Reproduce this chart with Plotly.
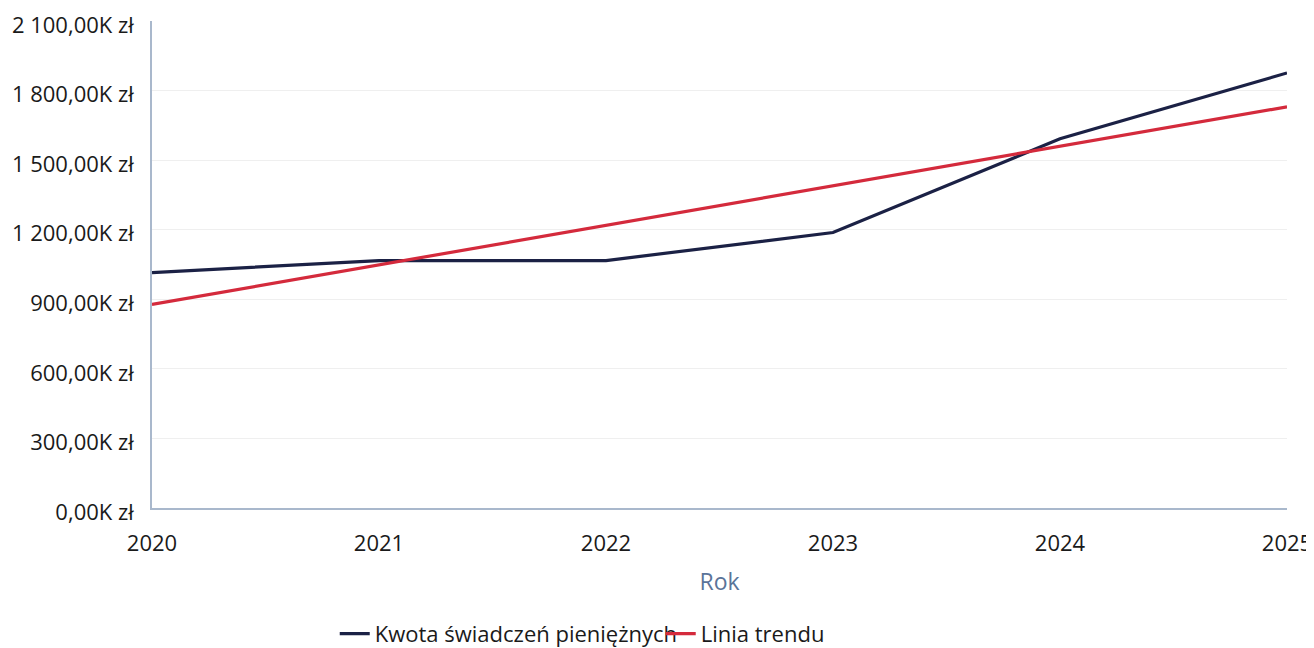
import plotly.graph_objects as go

years = [2020, 2021, 2022, 2023, 2024, 2025]
kwota = [1015, 1067, 1067, 1188, 1592, 1876]  # thousands zł
trend_years = [2020, 2025]
trend_vals = [878, 1730]
y_ticks = [0, 300, 600, 900, 1200, 1500, 1800, 2100]
y_labels = ["0,00K zł", "300,00K zł", "600,00K zł", "900,00K zł",
            "1 200,00K zł", "1 500,00K zł", "1 800,00K zł", "2 100,00K zł"]

fig = go.Figure()
fig.add_trace(go.Scatter(x=years, y=kwota, mode="lines",
                         name="Kwota świadczeń pieniężnych",
                         line=dict(color="#1b2145", width=3.2)))
fig.add_trace(go.Scatter(x=trend_years, y=trend_vals, mode="lines",
                         name="Linia trendu",
                         line=dict(color="#d42a3c", width=3.2)))

fig.update_layout(
    width=1306, height=640,
    margin=dict(l=144, r=27, t=13, b=140),
    paper_bgcolor="white", plot_bgcolor="white",
    font=dict(family="Open Sans", size=22, color="#1a1a1a"),
    showlegend=True,
    legend=dict(orientation="h", x=0.161, xanchor="left",
                yref="container", y=0.022, yanchor="middle",
                font=dict(size=22), entrywidth=281, entrywidthmode="pixels",
                tracegroupgap=0),
    xaxis=dict(range=[2020, 2025], tickvals=years, ticktext=[str(y) for y in years],
               showgrid=False, zeroline=False, showline=True, linecolor="#a9b8cc",
               linewidth=1.5, ticks="outside", ticklen=15, tickcolor="rgba(0,0,0,0)",
               tickfont=dict(size=22), automargin=False, ticklabeloverflow="allow",
               title=dict(text="Rok", font=dict(size=23, color="#5a7499"), standoff=18)),
    yaxis=dict(range=[0, 2100], tickvals=y_ticks, ticktext=y_labels,
               showgrid=True, gridcolor="#efefef", zeroline=False,
               showline=True, linecolor="#a9b8cc", linewidth=1.5,
               ticks="outside", ticklen=12, tickcolor="rgba(0,0,0,0)",
               ticklabelshift=4,
               tickfont=dict(size=22), automargin=False, ticklabeloverflow="allow"),
)

fig.write_html("out.html")
